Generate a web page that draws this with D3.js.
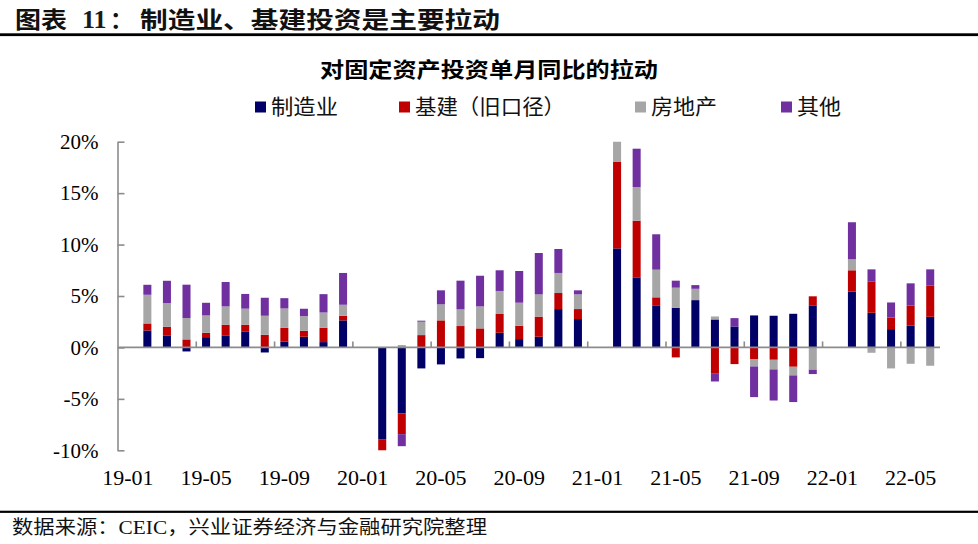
<!DOCTYPE html>
<html>
<head>
<meta charset="utf-8">
<script src="https://cdn.jsdelivr.net/npm/d3@7"></script>
<style>
  html, body { margin: 0; padding: 0; background: #fff; }
  svg { display: block; }
</style>
</head>
<body>
<svg id="chart" width="978" height="544"></svg>
<script>
// ---------- DATA ----------
const months = [
  "19-01","19-02","19-03","19-04","19-05","19-06","19-07","19-08","19-09","19-10","19-11","19-12",
  "20-01","20-02","20-03","20-04","20-05","20-06","20-07","20-08","20-09","20-10","20-11","20-12",
  "21-01","21-02","21-03","21-04","21-05","21-06","21-07","21-08","21-09","21-10","21-11","21-12",
  "22-01","22-02","22-03","22-04","22-05","22-06"
];
const tickLabels = ["19-01","19-05","19-09","20-01","20-05","20-09","21-01","21-05","21-09","22-01","22-05"];
const yTicks = [-10, -5, 0, 5, 10, 15, 20];
const seriesNames = ["制造业", "基建（旧口径）", "房地产", "其他"];

// contribution (percentage points)
const manufacturing = [null,1.65,1.17,-0.39,1.00,1.17,1.56,-0.49,0.58,1.04,0.52,2.63,
  null,-8.92,-6.42,-2.04,-1.65,-1.07,-1.04,1.43,0.81,1.04,3.73,2.76,
  null,9.63,6.81,4.09,3.86,4.60,2.72,2.04,3.11,3.08,3.27,4.09,
  null,5.42,3.37,1.78,2.11,2.98];
const infrastructure = [null,0.68,0.84,0.78,0.42,1.04,0.65,1.23,1.33,0.58,1.39,0.45,
  null,-1.33,-2.01,1.20,2.63,2.08,1.85,1.82,1.30,1.95,1.56,0.97,
  null,8.40,5.51,0.78,-0.97,0.00,-2.50,-1.62,-1.17,-1.20,-1.88,0.88,
  null,2.08,3.05,1.13,1.95,3.02];
const realEstate = [null,2.79,2.30,2.08,1.69,1.78,1.56,1.85,1.88,1.43,1.49,1.07,
  null,0.00,0.23,1.30,1.56,1.62,2.14,2.24,2.24,2.17,1.95,1.43,
  null,2.10,3.27,2.69,1.95,1.10,0.29,0.00,-0.68,-0.94,-0.84,-2.17,
  null,1.07,-0.52,-2.04,-1.59,-1.78];
const other = [null,0.97,2.17,3.24,1.23,2.37,1.43,1.75,1.00,0.71,1.78,3.09,
  null,0.00,-1.17,0.10,1.36,2.79,2.98,2.01,3.08,4.02,2.33,0.39,
  null,0.00,3.73,3.44,0.68,0.36,-0.81,0.81,-2.98,-3.02,-2.59,-0.42,
  null,3.60,1.17,1.46,2.17,1.59];

const colors = ["#000066", "#C00000", "#A6A6A6", "#7030A0"];

// ---------- BUILD ----------
const keys = ["m", "i", "r", "o"];
const table = months.map((mo, i) => ({
  month: mo,
  m: manufacturing[i] || 0,
  i: infrastructure[i] || 0,
  r: realEstate[i] || 0,
  o: other[i] || 0
}));

const svg = d3.select("#chart");
const plot = { left: 118, right: 940, top: 141.7, bottom: 450.3 };

const x = d3.scaleBand().domain(months).range([plot.left, plot.right])
  .paddingInner(0.59).paddingOuter(0.295);
const y = d3.scaleLinear().domain([-10, 20]).range([plot.bottom, plot.top]);

const serif = "'Liberation Serif', 'Times New Roman', serif";
const cjk = "'Noto Sans CJK SC', 'Noto Sans', sans-serif";

// header
svg.append("text").attr("x", 15).attr("y", 28).attr("font-family", cjk).attr("font-weight", 700)
  .attr("font-size", 23).attr("fill", "#111").attr("textLength", 52).attr("lengthAdjust", "spacingAndGlyphs").text("图表");
svg.append("text").attr("x", 82).attr("y", 28).attr("font-family", serif).attr("font-weight", 700)
  .attr("font-size", 26).attr("fill", "#1a1a1a").text("11");
svg.append("text").attr("x", 110).attr("y", 28).attr("font-family", cjk).attr("font-weight", 700)
  .attr("font-size", 23).attr("fill", "#111").text("：");
svg.append("text").attr("x", 140).attr("y", 28).attr("font-family", cjk).attr("font-weight", 700)
  .attr("font-size", 23).attr("fill", "#111").attr("textLength", 360).attr("lengthAdjust", "spacingAndGlyphs")
  .text("制造业、基建投资是主要拉动");
svg.append("rect").attr("x", 0).attr("y", 33.3).attr("width", 978).attr("height", 2.8).attr("fill", "#000");

// chart title
svg.append("text").attr("x", 320).attr("y", 77).attr("font-family", cjk).attr("font-weight", 700)
  .attr("font-size", 21).attr("fill", "#000").attr("textLength", 338).attr("lengthAdjust", "spacingAndGlyphs")
  .text("对固定资产投资单月同比的拉动");

// legend
const legendPos = [
  { sq: 255, tx: 271, len: 67 },
  { sq: 399, tx: 415, len: 150 },
  { sq: 635, tx: 651, len: 66 },
  { sq: 781, tx: 797, len: 44 }
];
const lg = svg.append("g");
seriesNames.forEach((name, k) => {
  lg.append("rect").attr("x", legendPos[k].sq).attr("y", 101.5).attr("width", 11).attr("height", 11)
    .attr("fill", colors[k]);
  lg.append("text").attr("x", legendPos[k].tx).attr("y", 114).attr("font-family", cjk)
    .attr("font-size", 21).attr("fill", "#111").attr("textLength", legendPos[k].len)
    .attr("lengthAdjust", "spacingAndGlyphs").text(name);
});

// clip
svg.append("clipPath").attr("id", "plotclip").append("rect")
  .attr("x", plot.left).attr("y", plot.top).attr("width", plot.right - plot.left).attr("height", plot.bottom - plot.top);

// bars
const stack = d3.stack().keys(keys).offset(d3.stackOffsetDiverging);
const layers = stack(table);
const barsG = svg.append("g").attr("clip-path", "url(#plotclip)");
layers.forEach((layer, k) => {
  barsG.append("g").attr("fill", colors[k])
    .selectAll("rect").data(layer).join("rect")
    .attr("x", d => x(d.data.month))
    .attr("width", x.bandwidth())
    .attr("y", d => y(Math.max(d[0], d[1])))
    .attr("height", d => Math.abs(y(d[0]) - y(d[1])));
});

// y axis
const yAxis = d3.axisLeft(y).tickValues(yTicks).tickSizeInner(-7).tickSizeOuter(0).tickPadding(19)
  .tickFormat(d => d + "%");
const ya = svg.append("g").attr("transform", `translate(${plot.left - 0.5},0)`).call(yAxis);
ya.selectAll("path, line").attr("stroke", "#8c8c8c").attr("stroke-width", 1.6);
ya.selectAll("text").attr("font-family", serif).attr("font-size", 21).attr("fill", "#000");

// zero line
svg.append("line").attr("x1", plot.left).attr("x2", plot.right).attr("y1", y(0)).attr("y2", y(0))
  .attr("stroke", "#8c8c8c").attr("stroke-width", 1.8);

// category tick marks every 4 months (upwards)
const step = x.step();
const boundaryIdx = d3.range(4, months.length, 4);
svg.append("g").selectAll("line").data(boundaryIdx).join("line")
  .attr("x1", i => plot.left + step * i).attr("x2", i => plot.left + step * i)
  .attr("y1", y(0) - 6).attr("y2", y(0))
  .attr("stroke", "#8c8c8c").attr("stroke-width", 1.6);

// x labels
const xAxis = d3.axisBottom(x).tickValues(tickLabels).tickSize(0).tickPadding(0);
const xa = svg.append("g").attr("transform", "translate(0,469)").call(xAxis);
xa.select(".domain").remove();
xa.selectAll("text").attr("font-family", serif).attr("font-size", 22).attr("fill", "#000");

// footer
svg.append("rect").attr("x", 0).attr("y", 510.7).attr("width", 978).attr("height", 2.2).attr("fill", "#000");
svg.append("text").attr("x", 12).attr("y", 534).attr("font-family", "'Liberation Serif', 'Noto Sans CJK SC', serif")
  .attr("font-size", 19).attr("fill", "#111").attr("textLength", 475).attr("lengthAdjust", "spacingAndGlyphs")
  .text("数据来源：CEIC，兴业证券经济与金融研究院整理");
</script>
</body>
</html>
